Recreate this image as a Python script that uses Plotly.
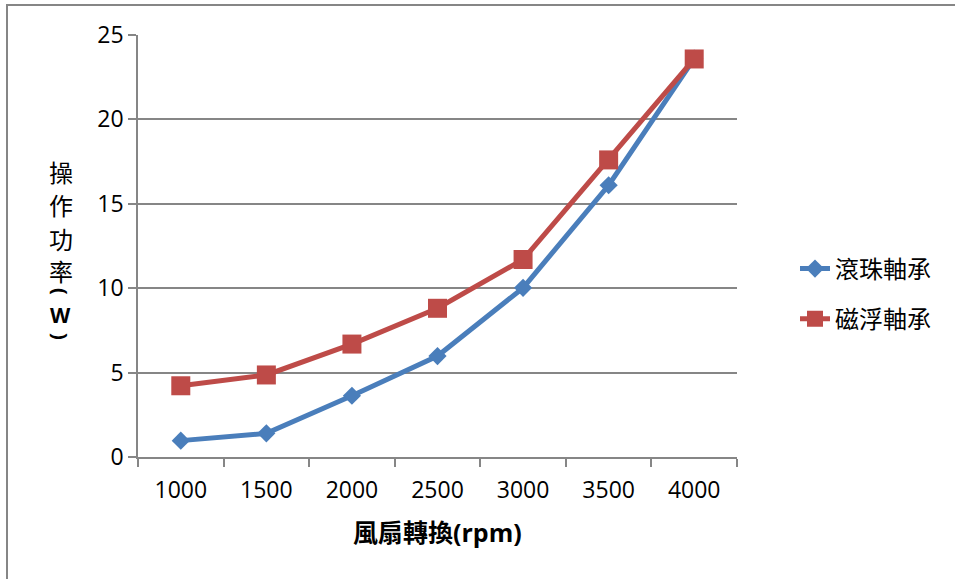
import plotly.graph_objects as go

# Fan speed categories and measured operating power (W)
speeds = ["1000", "1500", "2000", "2500", "3000", "3500", "4000"]
ball_bearing = [0.97, 1.4, 3.63, 5.98, 10.02, 16.1, 23.6]
maglev_bearing = [4.22, 4.86, 6.69, 8.81, 11.7, 17.6, 23.58]
series_names = ["滾珠軸承", "磁浮軸承"]
y_ticks = [0, 5, 10, 15, 20, 25]

W, H = 955, 579
L, T, PW, PH = 138, 35, 599, 422
R, B = W - L - PW, H - T - PH

BLUE = "#4a7ebb"
RED = "#be4b48"
GRID = "#868686"
LATIN = "Open Sans, Noto Sans CJK TC"
CJK = "Noto Sans CJK TC"


def px_x(x):
    return (x - L) / PW


def px_y(y):
    return (T + PH - y) / PH


fig = go.Figure()
fig.add_trace(go.Scatter(
    x=speeds, y=ball_bearing, name=series_names[0], mode="lines+markers",
    line=dict(color=BLUE, width=5),
    marker=dict(symbol="diamond", size=14, color=BLUE),
    legendgroup="a",
))
fig.add_trace(go.Scatter(
    x=speeds, y=maglev_bearing, name=series_names[1], mode="lines+markers",
    line=dict(color=RED, width=5),
    marker=dict(symbol="square", size=19, color=RED),
    legendgroup="b",
))

# Vertical y-axis title, one glyph per line; brackets are turned sideways
title_glyphs = [
    ("操", 172, CJK, 24, 0),
    ("作", 204, CJK, 24, 0),
    ("功", 238, CJK, 24, 0),
    ("率", 270, CJK, 24, 0),
    ("<b>(</b>", 292, LATIN, 20, 90),
    ("<b>W</b>", 315, LATIN, 21, 0),
    ("<b>)</b>", 337, LATIN, 20, 90),
]
annotations = []
for ch, yy, fam, size, ang in title_glyphs:
    annotations.append(dict(
        text=ch, x=px_x(61), y=px_y(yy), xref="paper", yref="paper",
        xanchor="center", yanchor="middle", showarrow=False, textangle=ang,
        font=dict(family=fam, size=size, color="#000000"),
    ))
annotations.append(dict(
    text="<b>風扇轉換(rpm)</b>", x=px_x(437), y=px_y(532),
    xref="paper", yref="paper", xanchor="center", yanchor="middle",
    showarrow=False, font=dict(family=LATIN, size=25, color="#000000"),
))

fig.update_layout(
    width=W, height=H,
    margin=dict(l=L, r=R, t=T, b=B),
    paper_bgcolor="white", plot_bgcolor="white",
    showlegend=True,
    legend=dict(
        x=px_x(795), y=px_y(294), xanchor="left", yanchor="middle",
        font=dict(family=CJK, size=24, color="#000000"),
        tracegroupgap=16, bgcolor="rgba(0,0,0,0)",
    ),
    annotations=annotations,
    shapes=[dict(
        type="rect", xref="paper", yref="paper",
        x0=px_x(7), x1=px_x(1000), y0=px_y(620), y1=px_y(5),
        line=dict(color=GRID, width=2), layer="below",
    )],
)
fig.update_xaxes(
    type="category", range=[-0.5, 6.5], tickson="boundaries",
    showline=True, linecolor=GRID, linewidth=1.5,
    ticks="outside", ticklen=8, tickcolor=GRID, tickwidth=1.5,
    showgrid=False, zeroline=False,
    tickfont=dict(family=LATIN, size=23, color="#000000"),
    ticklabelstandoff=12,
)
fig.update_yaxes(
    range=[0, 25], tickvals=y_ticks, ticktext=[str(v) for v in y_ticks],
    showline=True, linecolor=GRID, linewidth=1.5,
    ticks="outside", ticklen=8, tickcolor=GRID, tickwidth=1.5,
    showgrid=True, gridcolor=GRID, gridwidth=1.5, zeroline=False,
    tickfont=dict(family=LATIN, size=23, color="#000000"),
)

fig.write_html("out.html")
